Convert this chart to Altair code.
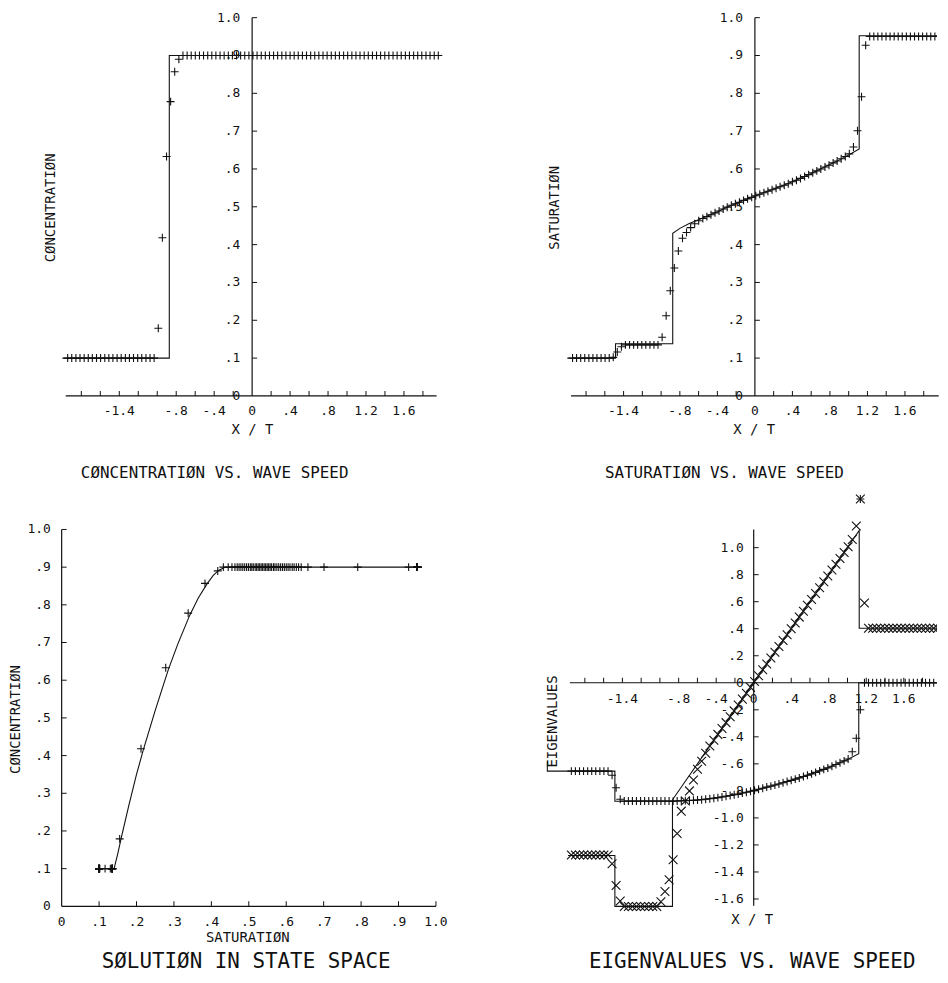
import altair as alt
import pandas as pd

FONT = "DejaVu Sans Mono"
INK = "#111111"

# ---------------- data ----------------
# wave speed x/t of every computed point
xi = [-1.944, -1.901, -1.857, -1.814, -1.770, -1.727, -1.684, -1.640, -1.597, -1.553,
      -1.510, -1.467, -1.423, -1.380, -1.336, -1.293, -1.250, -1.206, -1.163, -1.119,
      -1.076, -1.033, -0.989, -0.946, -0.902, -0.859, -0.816, -0.772, -0.729, -0.685,
      -0.642, -0.599, -0.555, -0.512, -0.468, -0.425, -0.382, -0.338, -0.295, -0.251,
      -0.208, -0.165, -0.121, -0.078, -0.034, 0.009, 0.052, 0.096, 0.139, 0.183,
      0.226, 0.269, 0.313, 0.356, 0.400, 0.443, 0.486, 0.530, 0.573, 0.617,
      0.660, 0.703, 0.747, 0.790, 0.834, 0.877, 0.920, 0.964, 1.007, 1.051,
      1.094, 1.137, 1.181, 1.224, 1.268, 1.311, 1.354, 1.398, 1.441, 1.485,
      1.528, 1.571, 1.615, 1.658, 1.702, 1.745, 1.788, 1.832, 1.875, 1.919, 1.962]

conc = [0.1, 0.1, 0.1, 0.1, 0.1, 0.1, 0.1, 0.1, 0.1, 0.1,
        0.1, 0.1, 0.1, 0.1, 0.1, 0.1, 0.1, 0.1, 0.1, 0.1,
        0.1, 0.1, 0.179, 0.418, 0.633, 0.778, 0.857, 0.89, 0.9, 0.9,
        0.9, 0.9, 0.9, 0.9, 0.9, 0.9, 0.9, 0.9, 0.9, 0.9,
        0.9, 0.9, 0.9, 0.9, 0.9, 0.9, 0.9, 0.9, 0.9, 0.9,
        0.9, 0.9, 0.9, 0.9, 0.9, 0.9, 0.9, 0.9, 0.9, 0.9,
        0.9, 0.9, 0.9, 0.9, 0.9, 0.9, 0.9, 0.9, 0.9, 0.9,
        0.9, 0.9, 0.9, 0.9, 0.9, 0.9, 0.9, 0.9, 0.9, 0.9,
        0.9, 0.9, 0.9, 0.9, 0.9, 0.9, 0.9, 0.9, 0.9, 0.9, 0.9]

sat = [0.1, 0.1, 0.1, 0.1, 0.1, 0.1, 0.1, 0.1, 0.1, 0.1,
       0.102, 0.116, 0.13, 0.135, 0.135, 0.135, 0.135, 0.135, 0.135, 0.135,
       0.135, 0.135, 0.155, 0.212, 0.278, 0.338, 0.383, 0.417, 0.432, 0.445,
       0.455, 0.463, 0.469, 0.474, 0.479, 0.484, 0.489, 0.494, 0.499, 0.504,
       0.508, 0.512, 0.517, 0.521, 0.525, 0.529, 0.533, 0.537, 0.541, 0.545,
       0.549, 0.553, 0.557, 0.561, 0.566, 0.570, 0.575, 0.580, 0.585, 0.590,
       0.595, 0.600, 0.605, 0.610, 0.616, 0.621, 0.627, 0.633, 0.640, 0.658,
       0.701, 0.791, 0.927, 0.95, 0.95, 0.95, 0.95, 0.95, 0.95, 0.95,
       0.95, 0.95, 0.95, 0.95, 0.95, 0.95, 0.95, 0.95, 0.95, 0.95, 0.95]

lam_slow = [-0.654, -0.654, -0.654, -0.654, -0.654, -0.654, -0.654, -0.654, -0.654, -0.654,
            -0.684, -0.777, -0.862, -0.875, -0.875, -0.875, -0.875, -0.875, -0.875, -0.875,
            -0.875, -0.875, -0.875, -0.875, -0.875, -0.876, -0.875, -0.873, -0.872, -0.871,
            -0.870, -0.868, -0.865, -0.862, -0.858, -0.854, -0.850, -0.845, -0.840, -0.834,
            -0.829, -0.823, -0.816, -0.810, -0.803, -0.796, -0.788, -0.780, -0.772, -0.765,
            -0.757, -0.749, -0.740, -0.731, -0.722, -0.713, -0.704, -0.694, -0.684, -0.674,
            -0.663, -0.652, -0.641, -0.630, -0.618, -0.605, -0.592, -0.578, -0.564, -0.51,
            -0.41, -0.20, 0.0, 0.0, 0.0, 0.0, 0.0, 0.0, 0.0, 0.0,
            0.0, 0.0, 0.0, 0.0, 0.0, 0.0, 0.0, 0.0, 0.0, 0.0, 0.0]

lam_fast = [-1.275, -1.275, -1.275, -1.275, -1.275, -1.275, -1.275, -1.275, -1.275, -1.275,
            -1.34, -1.50, -1.615, -1.655, -1.655, -1.655, -1.655, -1.655, -1.655, -1.655,
            -1.655, -1.655, -1.62, -1.544, -1.458, -1.31, -1.115, -0.95, -0.875, -0.80,
            -0.72, -0.64, -0.58, -0.522, -0.468, -0.425, -0.382, -0.338, -0.295, -0.251,
            -0.208, -0.165, -0.121, -0.078, -0.034, 0.009, 0.052, 0.096, 0.139, 0.183,
            0.226, 0.269, 0.313, 0.356, 0.400, 0.443, 0.486, 0.530, 0.573, 0.617,
            0.660, 0.703, 0.747, 0.790, 0.834, 0.877, 0.920, 0.964, 1.007, 1.06,
            1.16, 1.36, 0.59, 0.404, 0.404, 0.404, 0.404, 0.404, 0.404, 0.404,
            0.404, 0.404, 0.404, 0.404, 0.404, 0.404, 0.404, 0.404, 0.404, 0.404, 0.404]

star_x = [1.137]
star_y = [1.36]

# exact (continuous) solutions
conc_line_x = [-2.0, -0.873, -0.873, 1.98]
conc_line_y = [0.1, 0.1, 0.9, 0.9]

sat_line_x = [-2.0, -1.486, -1.486, -0.876, -0.876, -0.8, -0.7, -0.6, -0.5, -0.4, -0.3, -0.2,
              -0.1, 0.0, 0.1, 0.2, 0.3, 0.4, 0.5, 0.6, 0.7, 0.8, 0.9, 1.0, 1.112, 1.112, 1.97]
sat_line_y = [0.1, 0.1, 0.138, 0.138, 0.43, 0.443, 0.456, 0.466, 0.476, 0.487, 0.499, 0.509,
              0.519, 0.528, 0.538, 0.547, 0.556, 0.566, 0.577, 0.588, 0.600, 0.612, 0.624,
              0.637, 0.653, 0.952, 0.952]

state_line_s = [0.095, 0.14, 0.145, 0.15, 0.16, 0.18, 0.2, 0.217, 0.25, 0.285, 0.31, 0.342,
                0.365, 0.388, 0.405, 0.42, 0.435, 0.45, 0.955]
state_line_c = [0.1, 0.1, 0.12, 0.14, 0.185, 0.27, 0.35, 0.411, 0.52, 0.628, 0.695, 0.772,
                0.818, 0.855, 0.878, 0.892, 0.899, 0.9, 0.9]

fast_line_x = [-1.98, -1.48, -1.48, -0.866, -0.866, 1.125, 1.125, 2.0]
fast_line_y = [-1.278, -1.278, -1.655, -1.655, -0.866, 1.127, 0.404, 0.404]

slow_line_x = [-2.2, -2.2, -1.48, -1.48, -0.87, -0.6, -0.4, -0.2, 0.0, 0.2, 0.4, 0.6, 0.8,
               1.0, 1.12, 1.12, 2.0]
slow_line_y = [-0.58, -0.654, -0.654, -0.877, -0.877, -0.868, -0.852, -0.828, -0.797, -0.762,
               -0.722, -0.678, -0.627, -0.567, -0.525, 0.0, 0.0]

# axis ticks and labels
wave_ticks = [-1.8, -1.6, -1.4, -1.2, -1.0, -0.8, -0.6, -0.4, -0.2, 0.2, 0.4, 0.6, 0.8,
              1.0, 1.2, 1.4, 1.6, 1.8]
wave_label_vals = [-1.4, -0.8, -0.4, 0.0, 0.4, 0.8, 1.2, 1.6]
wave_label_text = ["-1.4", "-.8", "-.4", "0", ".4", ".8", "1.2", "1.6"]
unit_ticks = [0.1, 0.2, 0.3, 0.4, 0.5, 0.6, 0.7, 0.8, 0.9, 1.0]
unit_label_vals = [0.0, 0.1, 0.2, 0.3, 0.4, 0.5, 0.6, 0.7, 0.8, 0.9, 1.0]
unit_label_text = ["0", ".1", ".2", ".3", ".4", ".5", ".6", ".7", ".8", ".9", "1.0"]
eig_ticks = [-1.6, -1.4, -1.2, -1.0, -0.8, -0.6, -0.4, -0.2, 0.2, 0.4, 0.6, 0.8, 1.0]
eig_label_vals = [1.0, 0.8, 0.6, 0.4, 0.2, 0.0, -0.2, -0.4, -0.6, -0.8, -1.0, -1.2, -1.4, -1.6]
eig_label_text = ["1.0", ".8", ".6", ".4", ".2", "0", "-.2", "-.4", "-.6", "-.8", "-1.0",
                  "-1.2", "-1.4", "-1.6"]

TITLE_TL = "CØNCENTRATIØN VS. WAVE SPEED"
TITLE_TR = "SATURATIØN VS. WAVE SPEED"
TITLE_BL = "SØLUTIØN IN STATE SPACE"
TITLE_BR = "EIGENVALUES VS. WAVE SPEED"
YT_CONC = "CØNCENTRATIØN"
YT_SAT = "SATURATIØN"
YT_EIG = "EIGENVALUES"
XT_WAVE = "X / T"
XT_SAT = "SATURATIØN"

for arr in (conc, sat, lam_slow, lam_fast):
    assert len(arr) == len(xi), len(arr)

PLUS = "M-1,0L1,0M0,-1L0,1"
TIMES = "M-1,-1L1,1M-1,1L1,-1"


# ---------------- helpers ----------------
def sc(domain, rng):
    return alt.Scale(domain=domain, range=rng, nice=False, zero=False)


def enc_xy(xs, ys, xf="x", yf="y"):
    return dict(x=alt.X(f"{xf}:Q", scale=xs, axis=None),
                y=alt.Y(f"{yf}:Q", scale=ys, axis=None))


def line_layer(xv, yv, xs, ys, clip=False):
    df = pd.DataFrame({"x": xv, "y": yv, "i": list(range(len(xv)))})
    return alt.Chart(df).mark_line(color=INK, strokeWidth=1.1, clip=clip).encode(
        order="i:Q", **enc_xy(xs, ys))


def point_layer(xv, yv, xs, ys, shape, size, clip=False):
    df = pd.DataFrame({"x": xv, "y": yv})
    return alt.Chart(df).mark_point(shape=shape, size=size, filled=False, stroke=INK,
                                    strokeWidth=1.1, opacity=1, clip=clip).encode(
        **enc_xy(xs, ys))


def hrule(x1, x2, y, xs, ys):
    df = pd.DataFrame({"x": [x1], "x2": [x2], "y": [y]})
    return alt.Chart(df).mark_rule(color=INK, strokeWidth=1.2).encode(
        x2="x2:Q", **enc_xy(xs, ys))


def vrule(x, y1, y2, xs, ys):
    df = pd.DataFrame({"x": [x], "y": [y1], "y2": [y2]})
    return alt.Chart(df).mark_rule(color=INK, strokeWidth=1.2).encode(
        y2="y2:Q", **enc_xy(xs, ys))


def xticks(vals, y0, xs, ys):
    df = pd.DataFrame({"x": vals, "y": [y0] * len(vals)})
    return alt.Chart(df).mark_tick(orient="vertical", size=5, thickness=1, color=INK,
                                   yOffset=-2.5, opacity=1).encode(**enc_xy(xs, ys))


def yticks(vals, x0, xs, ys):
    df = pd.DataFrame({"x": [x0] * len(vals), "y": vals})
    return alt.Chart(df).mark_tick(orient="horizontal", size=5, thickness=1, color=INK,
                                   xOffset=2.5, opacity=1).encode(**enc_xy(xs, ys))


def xlabels(vals, texts, y0, xs, ys, dy):
    df = pd.DataFrame({"x": vals, "y": [y0] * len(vals), "t": texts})
    return alt.Chart(df).mark_text(font=FONT, fontSize=13, color=INK, align="center",
                                   baseline="middle", dy=dy).encode(
        text="t:N", **enc_xy(xs, ys))


def ylabels(vals, texts, x0, xs, ys, dx):
    df = pd.DataFrame({"x": [x0] * len(vals), "y": vals, "t": texts})
    return alt.Chart(df).mark_text(font=FONT, fontSize=13, color=INK, align="right",
                                   baseline="middle", dx=dx).encode(
        text="t:N", **enc_xy(xs, ys))


def text_at(txt, px, py, size, angle=0, baseline="middle"):
    df = pd.DataFrame({"t": [txt]})
    return alt.Chart(df).mark_text(font=FONT, fontSize=size, color=INK, align="center",
                                   baseline=baseline, angle=angle).encode(
        text="t:N", x=alt.value(px), y=alt.value(py))


LEFT_W = 466
RIGHT_W = 466
TOP_H = 476
BOT_H = 489
# bottom row starts at page y = 8 + TOP_H = 484

# ---------------- panel: concentration vs wave speed ----------------
xs1 = sc([-2, 2], [53.7, 435.7])
ys1 = sc([0, 1], [386.3, 5.6])
p1 = alt.layer(
    hrule(-1.965, 1.944, 0, xs1, ys1),
    vrule(0, 0, 1.0, xs1, ys1),
    xticks(wave_ticks, 0, xs1, ys1),
    yticks(unit_ticks, 0, xs1, ys1),
    xlabels(wave_label_vals, wave_label_text, 0, xs1, ys1, 15),
    ylabels(unit_label_vals, unit_label_text, 0, xs1, ys1, -12),
    line_layer(conc_line_x, conc_line_y, xs1, ys1),
    point_layer(xi, conc, xs1, ys1, PLUS, 64),
    text_at(YT_CONC, 42, 197, 14, 270),
    text_at(XT_WAVE, 245, 421, 14),
    text_at(TITLE_TL, 207, 464, 16),
).properties(width=LEFT_W, height=TOP_H)

# ---------------- panel: saturation vs wave speed ----------------
xs2 = sc([-2, 2], [93.9, 471.5])
ys2 = sc([0, 1], [386.3, 5.6])
p2 = alt.layer(
    hrule(-1.96, 1.96, 0, xs2, ys2),
    vrule(0, 0, 1.0, xs2, ys2),
    xticks(wave_ticks, 0, xs2, ys2),
    yticks(unit_ticks, 0, xs2, ys2),
    xlabels(wave_label_vals, wave_label_text, 0, xs2, ys2, 15),
    ylabels(unit_label_vals, unit_label_text, 0, xs2, ys2, -12),
    line_layer(sat_line_x, sat_line_y, xs2, ys2, clip=True),
    point_layer(xi, sat, xs2, ys2, PLUS, 64, clip=True),
    text_at(YT_SAT, 81.7, 197, 14, 270),
    text_at(XT_WAVE, 282, 421, 14),
    text_at(TITLE_TR, 252, 464, 16),
).properties(width=RIGHT_W, height=TOP_H)

# ---------------- panel: solution in state space ----------------
xs3 = sc([0, 1], [53, 429.7])
ys3 = sc([0, 1], [422, 42.7])
p3 = alt.layer(
    hrule(0, 1.0, 0, xs3, ys3),
    vrule(0, 0, 1.0, xs3, ys3),
    xticks(unit_ticks, 0, xs3, ys3),
    yticks(unit_ticks, 0, xs3, ys3),
    xlabels(unit_label_vals, unit_label_text, 0, xs3, ys3, 16),
    ylabels(unit_label_vals, unit_label_text, 0, xs3, ys3, -11),
    line_layer(state_line_s, state_line_c, xs3, ys3),
    point_layer(sat, conc, xs3, ys3, PLUS, 64),
    text_at(YT_CONC, 7, 234, 14, 270),
    text_at(XT_SAT, 240.3, 454, 14),
    text_at(TITLE_BL, 238.7, 488, 21, 0, "bottom"),
).properties(width=LEFT_W, height=BOT_H)

# ---------------- panel: eigenvalues vs wave speed ----------------
xs4 = sc([-2, 2], [92.7, 470.3])
ys4 = sc([-1.6, 1.0], [414.6, 61])
p4 = alt.layer(
    hrule(-1.96, 1.95, 0, xs4, ys4),
    vrule(0, -1.65, 1.135, xs4, ys4),
    xticks(wave_ticks, 0, xs4, ys4),
    yticks(eig_ticks, 0, xs4, ys4),
    xlabels(wave_label_vals, wave_label_text, 0, xs4, ys4, 16),
    ylabels(eig_label_vals, eig_label_text, 0, xs4, ys4, -10),
    line_layer(fast_line_x, fast_line_y, xs4, ys4, clip=True),
    line_layer(slow_line_x, slow_line_y, xs4, ys4, clip=True),
    point_layer(xi, lam_slow, xs4, ys4, PLUS, 64, clip=True),
    point_layer(xi, lam_fast, xs4, ys4, TIMES, 78, clip=True),
    point_layer(star_x, star_y, xs4, ys4, PLUS, 64),
    text_at(YT_EIG, 80, 236, 14, 270),
    text_at(XT_WAVE, 280, 436, 14),
    text_at(TITLE_BR, 280, 488, 21, 0, "bottom"),
).properties(width=RIGHT_W, height=BOT_H)

chart = alt.vconcat(
    alt.hconcat(p1, p2, spacing=0),
    alt.hconcat(p3, p4, spacing=0),
    spacing=0,
).properties(padding=0, background="white").configure_view(
    stroke="transparent", fill=None
).configure_concat(spacing=0)

chart.save("out.html", embed_options={"renderer": "svg", "actions": False})
